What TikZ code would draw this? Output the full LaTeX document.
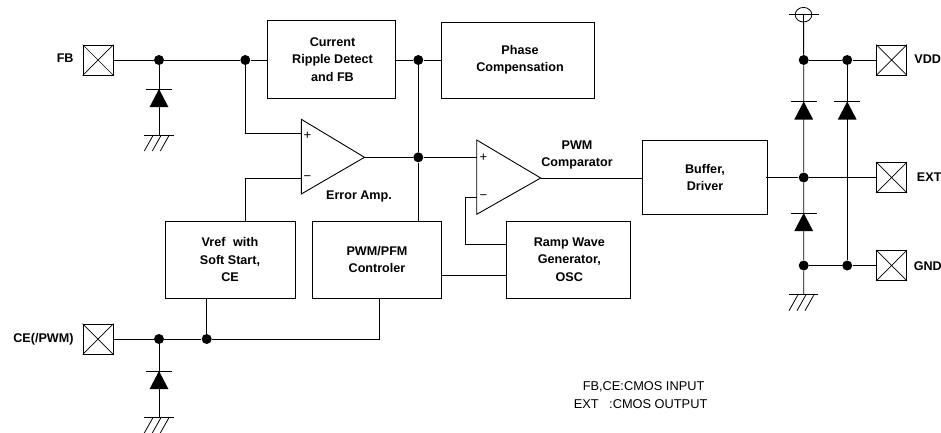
\documentclass[tikz,border=0pt]{standalone}
\usepackage{fontspec}
\setmainfont{Liberation Sans}
\begin{document}
\begin{tikzpicture}[x=1pt,y=-1pt,line width=0.9pt,
  block/.style={draw,rectangle,inner sep=0pt},
  lbl/.style={inner sep=0pt,align=center,font=\fontsize{12.6}{17.3}\selectfont\bfseries},
  note/.style={inner sep=0pt,anchor=west,font=\fontsize{12.8}{15}\selectfont},
  sgn/.style={inner sep=0pt,font=\fontsize{13}{13}\selectfont},
  dot/.style={circle,fill,inner sep=0pt,minimum size=10pt}]
\useasboundingbox (0,0) rectangle (941,432);
% blocks
\node[block,minimum width=128pt,minimum height=78pt] (cur) at (331.7,59) {};
\node[block,minimum width=153pt,minimum height=76pt] (pha) at (518.2,60) {};
\node[block,minimum width=124.6pt,minimum height=74.4pt] (buf) at (705,177.5) {};
\node[block,minimum width=130pt,minimum height=77pt] (vref) at (230,259.5) {};
\node[block,minimum width=129pt,minimum height=77pt] (pwm) at (377.2,259.5) {};
\node[block,minimum width=124pt,minimum height=77pt] (ramp) at (568.7,259.5) {};
% block texts
\node[lbl] (tcur) at (332.5,59.5) {Current\\Ripple Detect\\and FB};
\node[lbl] (tpha) at (520,59.5) {Phase\\Compensation};
\node[lbl] (tbuf) at (705,177.5) {Buffer,\\Driver};
\node[lbl] (tvref) at (230,259.5) {Vref\hspace{4pt} with\\Soft Start,\\CE};
\node[lbl] (tpwm) at (377,259.5) {PWM/PFM\\Controler};
\node[lbl] (tramp) at (569.3,259.5) {Ramp Wave\\Generator,\\OSC};
% op amps
\coordinate (e1) at (301.3,119.3); \coordinate (e2) at (301.3,194); \coordinate (etip) at (364.5,157.3);
\coordinate (c1) at (476.7,140); \coordinate (c2) at (476.7,214.3); \coordinate (ctip) at (540.7,178);
\draw[line join=miter] (e1) -- (e2) -- (etip) -- cycle;
\draw[line join=miter] (c1) -- (c2) -- (ctip) -- cycle;
\node[sgn] (ep) at (307.3,136) {+};
\node[sgn] (em) at (307.3,178) {−};
\node[sgn] (cp) at (483.3,157.3) {+};
\node[sgn] (cm) at (483.3,197) {−};
% pads
\foreach \n/\x/\y in {pfb/98/60,pce/98/339,pvdd/891.5/60,pext/891.5/177.5,pgnd/891.5/265.5}{
  \node[draw,rectangle,minimum size=30pt,inner sep=0pt] (\n) at (\x,\y) {};
  \draw[line width=0.7pt] (\n.north west) -- (\n.south east) (\n.north east) -- (\n.south west);
}
% pad labels
\node[lbl,anchor=east] (lfb) at (74,58.5) {FB};
\node[lbl,anchor=east] (lce) at (74,339) {CE(/PWM)};
\node[lbl,anchor=west] (lvdd) at (914,58.7) {VDD};
\node[lbl,anchor=west] (lext) at (916.5,176.7) {EXT};
\node[lbl,anchor=west] (lgnd) at (913.3,266) {GND};
\node[lbl] (lerr) at (359,196.7) {Error Amp.};
\node[lbl] (lcmp) at (577,155) {PWM\\Comparator};
\node[note] (n1) at (582.3,386.7) {FB,CE:CMOS INPUT};
\node[note] (n2) at (573.3,404) {EXT\hspace{7pt} :CMOS OUTPUT};
% junctions
\foreach \n/\x/\y in {j1/159/60,j2/245.3/60,j3/418.3/60,j4/418.3/157.3,j5/803.7/60,j6/847.2/60,j7/803.7/177.5,j8/803.7/265.5,j9/847.2/265.5,j10/159/339,j11/206.7/339}{
  \node[dot] (\n) at (\x,\y) {};
}
% free points
\coordinate (g1) at (159,135); \coordinate (g2) at (159,417); \coordinate (g3) at (803.7,294.7);
\coordinate (sup) at (803.5,14.7);
% wires
\draw (pfb.east) -- (j1) -- (j2) -- (cur.west|-j2);
\draw (j2) |- (e1|-0,133.5);
\draw (vref.north-|245.3,0) |- (e1|-0,178);
\draw (cur.east|-j3) -- (j3) -- (pha.west|-j3);
\draw (j3) -- (j4) -- (pwm.north-|j4);
\draw (etip) -- (j4) -- (c1|-j4);
\draw (ctip) -- (buf.west|-ctip);
\draw (c1|-0,197) -- (465.7,197) -- (465.7,244.7) -- (ramp.west|-0,244.7);
\draw (pwm.east|-0,275.7) -- (ramp.west|-0,275.7);
\draw (pce.east) -- (j10) -- (j11) -- (379.3,339) -- (pwm.south-|379.3,0);
\draw (j11) -- (vref.south-|j11);
\draw ([xshift=-1.5pt]buf.east) -- (j7) -- (pext.west|-j7);
\draw (j5) -- (j6) -- (pvdd.west|-j6);
\draw (j8) -- (j9) -- (pgnd.west|-j9);
\draw (sup) -- (j5) -- (j7) -- (j8) -- (g3);
\draw (j6) -- (j9);
\draw (j1) -- (g1);
\draw (j10) -- (g2);
% diodes
\foreach \x/\y in {159/89,159/371,803.7/101.5,847.2/101.5,803.7/213}{
  \fill (\x-9.4,\y+18) -- (\x+9.4,\y+18) -- (\x,\y) -- cycle;
  \draw (\x-13,\y) -- (\x+13,\y);
}
% grounds
\foreach \x/\y in {159/135,159/417,803.7/294.7}{
  \draw (\x-14.7,\y) -- (\x+14.7,\y);
  \foreach \d in {-5.7,2.3,10.3}{\draw[line width=0.8pt] (\x+\d,\y) -- (\x+\d-9,\y+16);}
}
% supply symbol
\draw[line width=0.8pt] (sup) ellipse (8.3pt and 7.3pt);
\draw[line width=0.8pt] (789.3,14.7) -- (819.3,14.7);
\end{tikzpicture}
\end{document}
